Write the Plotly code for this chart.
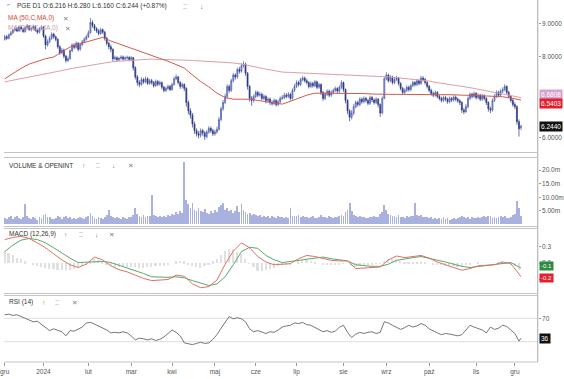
import numpy as np
import pandas as pd
import plotly.graph_objects as go

# ---------------- data ----------------
open_ = [8.52,8.60,8.55,8.66,8.72,8.80,8.86,8.78,8.90,8.84,8.76,8.88,8.94,8.82,8.86,8.92,8.80,8.74,8.85,8.90,
         8.62,8.35,8.45,8.55,8.68,8.60,8.52,8.30,8.12,8.20,8.02,7.90,7.95,8.18,8.35,8.28,8.40,8.22,8.36,8.45,
         8.52,8.60,8.72,9.05,8.95,8.85,8.78,8.70,8.82,8.74,8.55,8.40,8.30,8.22,7.95,7.98,7.92,7.96,8.00,7.94,
         7.97,7.99,7.93,7.98,7.70,7.45,7.30,7.25,7.38,7.32,7.40,7.28,7.35,7.30,7.22,7.33,7.26,7.30,7.18,7.10,
         7.15,7.20,7.12,7.25,7.40,7.45,7.30,7.20,7.25,7.15,6.80,6.60,6.50,6.30,6.15,6.08,6.05,6.15,6.10,6.02,
         6.12,6.20,6.15,6.08,6.12,6.18,6.40,6.65,6.80,6.95,7.20,7.10,7.35,7.50,7.45,7.65,7.60,7.75,7.80,7.55,
         7.20,6.90,6.85,6.95,7.05,6.98,7.00,6.90,6.95,6.85,6.88,6.80,6.78,6.85,6.75,6.82,6.90,6.92,6.98,6.95,
         7.00,6.90,7.10,7.20,7.30,7.25,7.38,7.42,7.35,7.30,7.20,7.28,7.22,7.32,7.18,7.25,7.05,6.90,7.00,7.08,
         6.98,7.05,7.10,7.15,7.08,7.18,7.30,7.12,6.85,6.60,6.45,6.55,6.70,6.80,6.75,6.88,6.82,6.90,6.85,6.78,
         6.92,6.86,6.80,6.88,6.75,6.55,6.90,7.40,7.50,7.35,7.45,7.30,7.38,7.42,7.28,7.15,7.05,7.10,7.18,7.12,
         7.22,7.30,7.25,7.35,7.28,7.42,7.38,7.30,7.20,7.10,7.02,6.98,7.05,6.95,6.90,6.85,6.92,6.88,6.82,6.90,
         6.86,6.93,6.88,6.84,6.80,6.62,6.58,6.70,6.90,7.00,6.95,7.02,6.92,6.98,6.88,6.96,6.90,6.80,6.65,6.62,
         6.85,6.95,7.05,6.98,7.08,7.12,7.20,7.05,6.95,6.85,6.75,6.70,6.35,6.216]
high = [8.66,8.65,8.70,8.78,8.84,8.92,8.90,8.95,8.95,8.88,8.93,9.00,8.97,8.90,8.98,8.95,8.85,8.90,8.96,8.93,
        8.66,8.52,8.62,8.74,8.72,8.64,8.55,8.34,8.26,8.24,8.06,8.02,8.22,8.40,8.40,8.46,8.44,8.42,8.50,8.58,
        8.66,8.80,9.20,9.12,9.00,8.90,8.84,8.88,8.86,8.78,8.60,8.45,8.36,8.25,8.04,8.02,8.00,8.05,8.04,8.02,
        8.04,8.02,8.03,8.00,7.74,7.50,7.36,7.44,7.42,7.46,7.44,7.40,7.40,7.34,7.38,7.37,7.35,7.33,7.22,7.20,
        7.25,7.24,7.30,7.46,7.52,7.48,7.34,7.30,7.28,7.18,6.85,6.66,6.55,6.35,6.20,6.14,6.20,6.19,6.14,6.16,
        6.25,6.24,6.19,6.17,6.24,6.46,6.70,6.86,7.02,7.26,7.25,7.40,7.56,7.55,7.70,7.72,7.82,7.88,7.84,7.58,
        7.24,6.96,7.00,7.10,7.09,7.06,7.04,7.00,6.98,6.93,6.92,6.85,6.90,6.88,6.87,6.95,6.98,7.04,7.03,7.06,
        7.04,7.15,7.26,7.36,7.35,7.43,7.48,7.46,7.40,7.34,7.33,7.32,7.37,7.35,7.30,7.28,7.09,7.05,7.13,7.12,
        7.10,7.15,7.20,7.18,7.23,7.36,7.33,7.15,6.88,6.64,6.62,6.76,6.85,6.84,6.93,6.92,6.95,6.94,6.89,6.97,
        6.96,6.90,6.93,6.91,6.78,6.95,7.46,7.58,7.54,7.50,7.48,7.43,7.48,7.45,7.31,7.19,7.15,7.23,7.22,7.27,
        7.35,7.34,7.40,7.39,7.48,7.47,7.42,7.34,7.24,7.14,7.07,7.10,7.08,6.99,6.94,6.97,6.96,6.92,6.95,6.94,
        6.98,6.97,6.92,6.88,6.83,6.67,6.76,6.95,7.05,7.04,7.07,7.06,7.03,7.01,7.01,7.00,6.93,6.83,6.70,6.90,
        7.00,7.10,7.09,7.13,7.18,7.26,7.23,7.09,6.99,6.89,6.80,6.73,6.40,6.28]
low = [8.48,8.50,8.52,8.62,8.68,8.76,8.74,8.75,8.80,8.72,8.72,8.84,8.78,8.76,8.82,8.76,8.68,8.70,8.80,8.56,
       8.22,8.30,8.40,8.50,8.54,8.46,8.24,8.06,8.08,7.96,7.84,7.86,7.92,8.14,8.22,8.24,8.16,8.18,8.32,8.40,
       8.48,8.56,8.70,8.88,8.78,8.72,8.64,8.66,8.68,8.48,8.34,8.22,8.14,7.86,7.90,7.88,7.88,7.92,7.90,7.90,
       7.92,7.88,7.89,7.62,7.38,7.22,7.18,7.22,7.27,7.28,7.24,7.24,7.25,7.17,7.19,7.21,7.22,7.13,7.05,7.06,
       7.11,7.08,7.09,7.22,7.36,7.25,7.14,7.15,7.08,6.70,6.52,6.42,6.22,6.08,6.02,5.98,6.00,6.04,5.95,5.98,
       6.08,6.10,6.03,6.04,6.08,6.15,6.36,6.60,6.76,6.90,7.04,7.06,7.30,7.38,7.40,7.54,7.56,7.70,7.48,7.12,
       6.82,6.72,6.80,6.90,6.93,6.94,6.85,6.86,6.78,6.80,6.74,6.72,6.74,6.70,6.71,6.78,6.86,6.88,6.90,6.91,
       6.85,6.87,7.06,7.16,7.20,7.21,7.33,7.30,7.25,7.15,7.16,7.17,7.18,7.13,7.14,6.98,6.84,6.86,6.96,6.93,
       6.94,7.00,7.06,7.03,7.04,7.14,7.06,6.78,6.52,6.36,6.40,6.50,6.66,6.70,6.71,6.77,6.78,6.80,6.73,6.74,
       6.81,6.75,6.76,6.68,6.46,6.52,6.88,7.36,7.30,7.31,7.25,7.26,7.34,7.22,7.10,7.00,7.01,7.06,7.07,7.08,
       7.18,7.20,7.21,7.23,7.24,7.33,7.25,7.15,7.05,6.97,6.93,6.94,6.90,6.85,6.80,6.81,6.83,6.77,6.78,6.81,
       6.82,6.83,6.79,6.74,6.55,6.52,6.55,6.66,6.86,6.90,6.91,6.87,6.88,6.83,6.84,6.85,6.74,6.58,6.55,6.58,
       6.81,6.91,6.93,6.94,7.03,7.08,7.00,6.90,6.80,6.70,6.64,6.28,6.02,6.16]
close = [8.60,8.55,8.66,8.72,8.80,8.86,8.78,8.90,8.84,8.76,8.88,8.94,8.82,8.86,8.92,8.80,8.74,8.85,8.90,8.62,
         8.35,8.45,8.55,8.68,8.60,8.52,8.30,8.12,8.20,8.02,7.90,7.95,8.18,8.35,8.28,8.40,8.22,8.36,8.45,8.52,
         8.60,8.72,9.05,8.95,8.85,8.78,8.70,8.82,8.74,8.55,8.40,8.30,8.22,7.95,7.98,7.92,7.96,8.00,7.94,7.97,
         7.99,7.93,7.98,7.70,7.45,7.30,7.25,7.38,7.32,7.40,7.28,7.35,7.30,7.22,7.33,7.26,7.30,7.18,7.10,7.15,
         7.20,7.12,7.25,7.40,7.45,7.30,7.20,7.25,7.15,6.80,6.60,6.50,6.30,6.15,6.08,6.05,6.15,6.10,6.02,6.12,
         6.20,6.15,6.08,6.12,6.18,6.40,6.65,6.80,6.95,7.20,7.10,7.35,7.50,7.45,7.65,7.60,7.75,7.80,7.55,7.20,
         6.90,6.85,6.95,7.05,6.98,7.00,6.90,6.95,6.85,6.88,6.80,6.78,6.85,6.75,6.82,6.90,6.92,6.98,6.95,7.00,
         6.90,7.10,7.20,7.30,7.25,7.38,7.42,7.35,7.30,7.20,7.28,7.22,7.32,7.18,7.25,7.05,6.90,7.00,7.08,6.98,
         7.05,7.10,7.15,7.08,7.18,7.30,7.12,6.85,6.60,6.45,6.55,6.70,6.80,6.75,6.88,6.82,6.90,6.85,6.78,6.92,
         6.86,6.80,6.88,6.75,6.55,6.90,7.40,7.50,7.35,7.45,7.30,7.38,7.42,7.28,7.15,7.05,7.10,7.18,7.12,7.22,
         7.30,7.25,7.35,7.28,7.42,7.38,7.30,7.20,7.10,7.02,6.98,7.05,6.95,6.90,6.85,6.92,6.88,6.82,6.90,6.86,
         6.93,6.88,6.84,6.80,6.62,6.58,6.70,6.90,7.00,6.95,7.02,6.92,6.98,6.88,6.96,6.90,6.80,6.65,6.62,6.85,
         6.95,7.05,6.98,7.08,7.12,7.20,7.05,6.95,6.85,6.75,6.70,6.35,6.19,6.244]
volume = [2.5,2.0,2.8,3.0,2.2,2.6,3.1,2.4,2.0,2.7,7.5,3.2,2.5,2.1,2.9,2.4,1.8,2.6,2.3,
          3.5,4.0,2.8,2.6,2.2,2.0,2.5,3.3,2.9,2.1,2.6,3.0,2.4,2.8,2.2,2.5,1.9,2.3,2.7,2.4,2.2,2.9,
          3.2,4.2,3.0,2.5,2.2,2.6,2.4,2.1,2.9,3.4,5.3,3.0,2.6,2.3,2.8,2.5,2.2,2.7,2.4,2.0,2.6,
          2.8,3.5,6.0,3.8,3.2,2.9,3.4,2.7,3.0,3.3,11.0,3.6,3.1,2.8,3.3,2.6,3.0,2.9,3.5,3.2,
          4.0,3.6,4.5,3.8,5.0,4.2,23.0,9.0,7.5,6.0,8.0,5.5,4.8,6.2,5.0,4.5,5.8,4.2,3.8,5.0,4.4,
          5.5,4.6,6.5,7.0,8.0,5.2,6.0,4.8,5.5,4.4,5.0,6.8,4.6,7.5,5.2,4.5,3.9,4.2,3.6,4.0,
          3.4,3.0,3.6,2.8,3.2,2.6,3.0,2.5,3.3,2.7,2.4,3.0,2.6,2.9,2.3,2.8,2.5,6.0,3.1,3.2,
          3.0,3.5,2.8,3.2,2.6,2.9,2.4,2.7,3.1,2.5,2.3,2.8,3.4,2.9,2.6,2.4,3.0,2.7,2.5,2.9,2.6,3.2,3.6,
          3.0,4.5,5.5,8.0,4.8,3.6,3.0,2.8,3.2,2.6,2.9,2.5,2.4,2.8,2.6,3.0,2.7,2.9,4.0,4.5,7.0,
          5.5,4.0,3.5,3.0,3.2,2.8,3.4,2.6,2.9,2.5,3.1,2.7,3.0,3.3,8.0,3.6,3.0,3.4,2.8,2.6,2.9,
          2.4,2.7,2.2,2.5,2.0,2.3,1.9,2.6,2.1,2.4,1.8,2.2,2.5,2.0,2.3,2.7,3.2,2.9,2.4,2.6,2.2,2.8,2.5,
          2.3,2.7,2.4,2.9,3.1,2.6,3.3,3.0,2.5,2.8,2.4,2.6,3.0,2.7,3.2,2.5,2.3,2.9,3.4,
          4.0,8.5,6.0,3.0]

# indicator lines, sampled every 4 sessions (session index) + last session
line_days = list(range(0, 253, 4)) + [253]
ma50 = [7.40,7.55,7.68,7.80,7.88,7.95,8.00,8.15,8.29,8.37,8.44,8.52,8.58,8.47,8.38,8.29,8.20,8.12,8.04,7.96,
        7.88,7.79,7.69,7.50,7.33,7.19,7.03,6.92,6.88,6.88,6.88,6.85,6.82,6.79,6.76,6.83,6.90,6.98,7.03,7.03,
        7.03,7.03,7.03,7.02,7.02,7.01,7.00,7.00,7.00,7.00,7.00,7.00,7.00,7.00,6.99,6.99,6.98,6.98,6.97,6.96,
        6.95,6.94,6.91,6.87,6.86]
ma200 = [7.32,7.36,7.41,7.45,7.50,7.54,7.58,7.62,7.67,7.71,7.75,7.79,7.83,7.86,7.88,7.90,7.92,7.94,7.94,7.93,
         7.93,7.92,7.91,7.90,7.89,7.87,7.86,7.84,7.83,7.80,7.76,7.71,7.66,7.62,7.58,7.57,7.56,7.55,7.54,7.53,
         7.52,7.51,7.50,7.49,7.48,7.48,7.47,7.45,7.43,7.41,7.39,7.37,7.34,7.30,7.27,7.23,7.20,7.17,7.13,7.09,
         7.05,7.01,6.97,6.93,6.92]
macd = [0.43,0.47,0.49,0.45,0.37,0.28,0.17,0.06,-0.03,-0.08,-0.02,0.11,0.06,-0.05,-0.12,-0.16,-0.22,-0.28,-0.32,-0.31,
        -0.30,-0.22,-0.24,-0.38,-0.45,-0.43,-0.31,-0.02,0.22,0.37,0.28,0.12,0.02,-0.03,-0.02,-0.01,0.08,0.14,0.12,0.09,
        0.05,0.04,0.04,-0.10,-0.09,-0.08,-0.07,0.06,0.13,0.10,0.12,0.14,0.09,0.02,-0.03,-0.08,-0.13,-0.10,-0.05,-0.04,
        -0.03,0.02,-0.01,-0.20,-0.25]
signal = [0.21,0.33,0.42,0.45,0.43,0.37,0.28,0.18,0.09,0.01,0.02,0.03,0.03,0.01,-0.04,-0.08,-0.14,-0.19,-0.25,-0.26,
          -0.26,-0.25,-0.27,-0.32,-0.36,-0.41,-0.38,-0.25,-0.03,0.21,0.29,0.27,0.14,0.06,0.01,0.03,0.05,0.08,0.10,0.11,
          0.08,0.06,0.04,-0.03,-0.05,-0.06,-0.06,-0.02,0.05,0.08,0.10,0.12,0.09,0.05,0.02,-0.02,-0.06,-0.08,-0.06,-0.04,
          -0.03,-0.01,0.01,-0.07,-0.09]
hist_days = list(range(0, 253, 2))
hist = [0.22,0.18,0.14,0.10,0.07,0.03,0.00,-0.03,-0.06,-0.08,-0.09,-0.10,-0.11,-0.12,-0.12,-0.12,-0.12,-0.10,-0.09,-0.06,
        -0.04,0.03,0.08,0.05,0.03,-0.02,-0.06,-0.07,-0.08,-0.08,-0.08,-0.08,-0.08,-0.09,-0.09,-0.08,-0.07,-0.06,-0.05,-0.05,
        -0.04,0.00,0.03,0.04,0.03,-0.03,-0.06,-0.08,-0.09,-0.05,-0.02,0.03,0.07,0.15,0.23,0.25,0.25,0.20,0.16,0.07,
        -0.01,-0.08,-0.15,-0.14,-0.12,-0.10,-0.09,-0.06,-0.03,-0.03,-0.04,0.00,0.03,0.05,0.06,0.04,0.02,0.00,-0.02,-0.03,
        -0.03,-0.03,-0.02,-0.01,0.00,-0.05,-0.07,-0.05,-0.04,-0.03,-0.02,-0.01,-0.01,0.04,0.08,0.08,0.08,0.04,0.02,0.02,
        0.02,0.02,0.02,0.01,0.00,-0.02,-0.03,-0.04,-0.05,-0.05,-0.06,-0.07,-0.07,-0.04,-0.02,0.00,0.01,0.00,0.00,0.00,
        0.00,0.02,0.03,0.01,-0.02,-0.06,-0.13]
rsi_days = list(range(0, 253, 2)) + [253]
rsi = [76,77,75,76,73,70,66,64,65,60,54,49,52,50,47,40,49,48,51,55,
       62,63,60,57,54,50,45,46,45,47,45,40,33,36,35,33,35,32,34,38,
       44,50,46,40,28,27,25,27,29,27,28,34,42,53,62,73,69,71,69,64,
       52,47,49,46,44,47,46,50,55,57,58,62,61,63,59,58,54,50,47,49,
       46,48,55,58,46,37,43,46,44,46,47,44,46,64,62,58,55,51,54,58,
       55,57,61,58,52,48,45,42,44,43,42,40,42,50,58,55,52,50,45,55,
       51,53,58,56,50,44,31,36]

holidays = ['2023-12-25', '2023-12-26', '2024-01-01', '2024-03-29', '2024-04-01', '2024-05-01',
            '2024-05-03', '2024-05-30', '2024-08-15', '2024-11-01', '2024-11-11']
month_names = ['sty', 'lut', 'mar', 'kwi', 'maj', 'cze', 'lip', 'sie', 'wrz', 'paź', 'lis', 'gru']
ma_labels = ['6.6808', '6.5403']

# ---------------- build ----------------
n = min(len(open_), len(high), len(low), len(close), len(volume))
days_idx = list(range(n))
bd = pd.bdate_range('2023-12-01', '2024-12-31')
bd = bd[~bd.isin(pd.to_datetime(holidays))][:n]
tickvals, ticktext, prev = [], [], None
for i, d in enumerate(bd):
    if (d.year, d.month) != prev:
        tickvals.append(i)
        ticktext.append(str(d.year) if d.month == 1 else month_names[d.month - 1])
        prev = (d.year, d.month)

W, H = 564, 379
XD = 539.5 / W
def py(p):
    return 1 - p / H

FONT = 'Liberation Sans, Arial, DejaVu Sans, sans-serif'
fig = go.Figure()

fig.add_trace(go.Candlestick(
    x=days_idx, open=open_[:n], high=high[:n], low=low[:n], close=close[:n],
    xaxis='x', yaxis='y',
    increasing=dict(line=dict(color='#4a5aab', width=0.7), fillcolor='#9aa6de'),
    decreasing=dict(line=dict(color='#2c3886', width=0.7), fillcolor='#2c3886'),
    whiskerwidth=0, hoverinfo='skip'))
fig.add_trace(go.Scatter(x=line_days[:len(ma200)], y=ma200, mode='lines', xaxis='x', yaxis='y',
                         line=dict(color='#dca0a4', width=1)))
fig.add_trace(go.Scatter(x=line_days[:len(ma50)], y=ma50, mode='lines', xaxis='x', yaxis='y',
                         line=dict(color='#d35a4a', width=1)))

fig.add_trace(go.Bar(x=days_idx, y=volume[:n], xaxis='x', yaxis='y2', width=0.4,
                     marker=dict(color='#a9b1df', line=dict(width=0))))

fig.add_trace(go.Bar(x=hist_days[:len(hist)], y=hist, xaxis='x', yaxis='y3', width=0.8,
                     marker=dict(color='#e0e0e0', line=dict(width=0))))
fig.add_trace(go.Scatter(x=line_days[:len(signal)], y=signal, mode='lines', xaxis='x', yaxis='y3',
                         line=dict(color='#5aa86a', width=1)))
fig.add_trace(go.Scatter(x=line_days[:len(macd)], y=macd, mode='lines', xaxis='x', yaxis='y3',
                         line=dict(color='#e07068', width=1)))

fig.add_trace(go.Scatter(x=rsi_days[:len(rsi)], y=rsi, mode='lines', xaxis='x', yaxis='y4',
                         line=dict(color='#666666', width=0.9)))

yax = dict(side='right', anchor='x', showgrid=False, zeroline=False, showline=False,
           ticks='outside', ticklen=2, tickcolor='#999999',
           tickfont=dict(size=6.5, color='#555555', family=FONT))

fig.update_layout(
    width=W, height=H, margin=dict(l=0, r=0, t=0, b=0),
    paper_bgcolor='white', plot_bgcolor='white', showlegend=False,
    font=dict(family=FONT, size=6.5, color='#333333'),
    bargap=0,
    xaxis=dict(domain=[0, XD], range=[-0.35, 261.2], anchor='y4', showgrid=False, zeroline=False,
               showline=False, tickvals=tickvals, ticktext=ticktext, ticks='outside', ticklen=3,
               tickcolor='#999999', tickfont=dict(size=6.5, color='#555555', family=FONT),
               ticklabeloverflow='allow', rangeslider=dict(visible=False)),
    yaxis=dict(domain=[py(153), 1], type='log', range=[0.7542, 0.99141],
               tickvals=[6, 8, 9], ticktext=['6.0000', '8.0000', '9.0000'], **yax),
    yaxis2=dict(domain=[py(227), py(157)], range=[-0.92, 24.77],
                tickvals=[5, 10, 15, 20], ticktext=['5.00m', '10.00m', '15.0m', '20.0m'], **yax),
    yaxis3=dict(domain=[py(294), py(228)], range=[-0.565, 0.642],
                tickvals=[0.3, 0.0, -0.3], ticktext=['0.3', '0.0', '-0.3'], **yax),
    yaxis4=dict(domain=[py(362), py(295)], range=[-4.7, 109.8],
                tickvals=[70], ticktext=['70'], **yax),
)

shapes = [dict(type='line', xref='paper', yref='paper', x0=XD, x1=XD, y0=py(362), y1=1,
               line=dict(color='#a8a8a8', width=1))]
for yy in [152.5, 157.5, 226.5, 228.5, 293.5, 295.5, 362]:
    shapes.append(dict(type='line', xref='paper', yref='paper', x0=0, x1=XD, y0=py(yy), y1=py(yy),
                       line=dict(color='#c4c4c4', width=1)))
for lv in [30, 70]:
    shapes.append(dict(type='line', xref='paper', yref='y4', x0=0, x1=XD, y0=lv, y1=lv,
                       line=dict(color='#dddddd', width=1), layer='below'))
fig.update_layout(shapes=shapes)

def ann(text, x, y, color='#333333', size=6.5):
    return dict(text=text, x=x / W, y=py(y), xref='paper', yref='paper', xanchor='left',
                yanchor='middle', showarrow=False, font=dict(size=size, color=color, family=FONT))

def box(text, yval, yref, bg, yshift=0, size=6.5):
    return dict(text=text, x=541 / W, xref='paper', y=yval, yref=yref, xanchor='left', yanchor='middle',
                showarrow=False, bgcolor=bg, borderpad=1, yshift=yshift,
                font=dict(size=size, color='white', family=FONT))

chg = (close[n - 1] / close[n - 2] - 1) * 100
header = (f"PGE D1 O:{open_[n-1]:.3f} H:{high[n-1]:.3f} L:{low[n-1]:.3f} "
          f"C:{close[n-1]:.3f} ({chg:+.2f}%)")
icon = '#777777'
annotations = [
    ann('⌜', 1, 6, icon), ann(header, 11, 6), ann('⁚⁚', 179, 6, icon), ann('↓', 196, 6, icon),
    ann('MA (50,C,MA,0)', 2, 18, '#d04a3a'), ann('✕', 58, 18, icon),
    ann('MA (200,C,MA,0)', 2, 28, '#c9a0a6'), ann('✕', 60, 28, icon),
    ann('VOLUME & OPENINT', 3, 165), ann('↑', 77, 165, icon), ann('⁚⁚', 91, 165, icon),
    ann('↓', 107, 165, icon), ann('✕', 123, 165, icon),
    ann('MACD (12,26,9)', 3, 234), ann('↑', 59, 234, icon), ann('⁚⁚', 74, 234, icon),
    ann('↓', 90, 234, icon), ann('✕', 104, 234, icon),
    ann('RSI (14)', 3, 302), ann('↑', 36, 302, icon), ann('⁚⁚', 50, 302, icon), ann('✕', 67, 302, icon),
    box(ma_labels[0], float(np.log10(ma200[-1])), 'y', '#d6a2d2', yshift=3),
    box(ma_labels[1], float(np.log10(ma50[-1])), 'y', '#e2202e', yshift=-3),
    box(f"{close[n-1]:.4f}", float(np.log10(close[n-1])), 'y', '#111111'),
    box(f"{signal[-1]:.1f}", signal[-1], 'y3', '#2e8b3e', yshift=2, size=6),
    box(f"{macd[-1]:.1f}", macd[-1], 'y3', '#e2202e', yshift=-1, size=6),
    box(f"{rsi[-1]:.0f}", rsi[-1], 'y4', '#111111'),
]
fig.update_layout(annotations=annotations)

fig.write_html("out.html", config={'displayModeBar': False})
